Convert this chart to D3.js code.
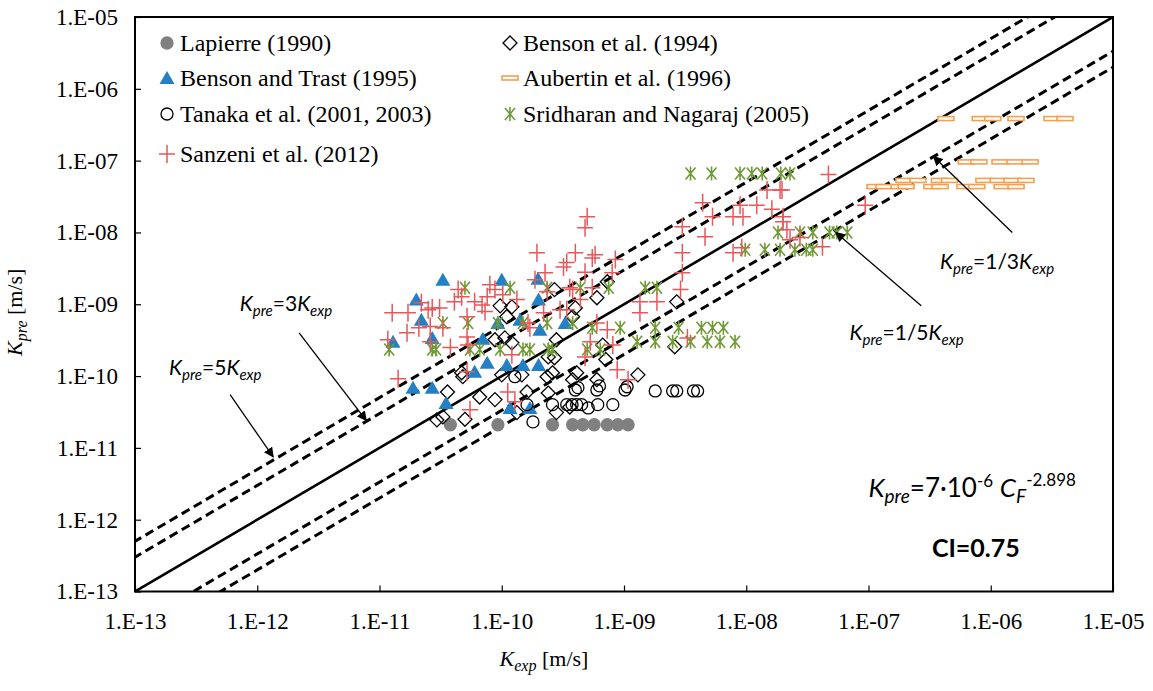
<!DOCTYPE html>
<html>
<head>
<meta charset="utf-8">
<script src="https://cdn.jsdelivr.net/npm/d3@7"></script>
<style>
  body { margin: 0; background: #fff; }
  svg { display: block; }
  .tick text { font-family: "Liberation Serif", "Times New Roman", serif; font-size: 23px; fill: #000; }
  .legend text { font-family: "Liberation Serif", "Times New Roman", serif; font-size: 24px; fill: #000; }
  .note { font-family: Lato, "Open Sans", sans-serif; font-size: 21px; fill: #000; }
</style>
</head>
<body>
<div id="chart"></div>
<script>
// ---- data ----
var tickVals = [1e-13, 1e-12, 1e-11, 1e-10, 1e-9, 1e-8, 1e-7, 1e-6, 1e-5];

var lapierreX = [3.8e-11, 9.3e-11, 2.6e-10, 3.8e-10, 4.6e-10, 5.7e-10, 7.3e-10, 8.9e-10, 1.08e-9];
var lapierreY = [2.1e-11, 2.1e-11, 2.1e-11, 2.1e-11, 2.1e-11, 2.1e-11, 2.1e-11, 2.1e-11, 2.1e-11];

var benson94X = [9.7e-11, 1.21e-10, 1.1e-10, 2.7e-10, 8.8e-11, 1.06e-10, 1.21e-10, 2.8e-10, 2.4e-10, 2.7e-10,
                 4.7e-11, 4.8e-11, 1.0e-10, 1.46e-10, 2.35e-10, 2.6e-10, 3.6e-11, 6.6e-11, 8.8e-11, 1.61e-10,
                 2.4e-10, 2.95e-11, 3.3e-11, 5.0e-11, 1.33e-10, 2.8e-10, 3.6e-10, 7.3e-10, 6.0e-10, 4.0e-10,
                 3.8e-10, 2.7e-9, 6.7e-10, 2.6e-9, 7.1e-10, 4.1e-10, 3.8e-10, 6.0e-10, 1.3e-9];
var benson94Y = [9.5e-10, 9.2e-10, 6.7e-10, 1.6e-9, 3.2e-10, 3.4e-10, 2.9e-10, 3.2e-10, 1.85e-10, 1.8e-10,
                 1.11e-10, 9.8e-11, 1.04e-10, 1.04e-10, 9.8e-11, 1.11e-10, 6.0e-11, 5.1e-11, 4.7e-11, 6.0e-11,
                 5.8e-11, 2.45e-11, 2.7e-11, 2.5e-11, 3.1e-11, 3.1e-11, 3.7e-11, 2.06e-9, 1.23e-9, 8.9e-10,
                 6.7e-10, 1.08e-9, 2.7e-10, 2.56e-10, 1.7e-10, 1.11e-10, 8.9e-11, 8.9e-11, 1.04e-10];

var trastX = [3.3e-11, 1.0e-10, 2.0e-11, 1.98e-10, 2.2e-11, 2.0e-10, 1.29e-11, 2.7e-11, 7.0e-11, 1.41e-10,
              9.3e-11, 2.05e-10, 3.3e-10, 7.6e-11, 1.1e-10, 1.49e-10, 2.0e-10, 6.0e-11, 1.88e-11, 2.7e-11,
              3.5e-11, 1.17e-10, 1.7e-10];
var trastY = [2.2e-9, 2.2e-9, 1.16e-9, 2.26e-9, 6.1e-10, 1.16e-9, 3.0e-10, 3.4e-10, 3.3e-10, 6.1e-10,
              5.5e-10, 4.4e-10, 5.5e-10, 1.53e-10, 1.43e-10, 1.43e-10, 1.43e-10, 1.15e-10, 6.9e-11, 6.9e-11,
              4.2e-11, 3.6e-11, 3.6e-11];

var aubertinX = [4.3e-7, 8.2e-7, 1.04e-6, 1.61e-6, 3.17e-6, 4.05e-6,
                 6.3e-7, 8.0e-7, 1.19e-6, 1.58e-6, 2.1e-6,
                 1.95e-7, 2.54e-7, 3.8e-7, 4.6e-7, 8.8e-7, 1.15e-6, 1.49e-6, 1.94e-6,
                 1.13e-7, 1.34e-7, 1.78e-7, 2.03e-7, 3.3e-7, 3.85e-7, 6.15e-7, 7.7e-7, 1.24e-6, 1.61e-6];
var aubertinY = [3.85e-7, 3.85e-7, 3.85e-7, 3.85e-7, 3.85e-7, 3.85e-7,
                 9.6e-8, 9.6e-8, 9.6e-8, 9.6e-8, 9.6e-8,
                 5.3e-8, 5.3e-8, 5.3e-8, 5.3e-8, 5.3e-8, 5.3e-8, 5.3e-8, 5.3e-8,
                 4.35e-8, 4.35e-8, 4.35e-8, 4.35e-8, 4.35e-8, 4.35e-8, 4.35e-8, 4.35e-8, 4.35e-8, 4.35e-8];

var tanakaX = [1.28e-10, 1.8e-10, 1.61e-10, 2.6e-10, 3.4e-10, 3.76e-10, 4.1e-10, 4.5e-10, 5.1e-10, 6.1e-10,
               8.1e-10, 4.0e-10, 4.2e-10, 6.0e-10, 6.3e-10, 1.02e-9, 1.06e-9, 1.8e-9, 2.5e-9, 2.7e-9,
               3.7e-9, 4.0e-9];
var tanakaY = [9.8e-11, 2.3e-11, 4.0e-11, 4.0e-11, 4.0e-11, 4.0e-11, 4.0e-11, 4.0e-11, 3.6e-11, 4.0e-11,
               4.0e-11, 6.4e-11, 6.9e-11, 6.4e-11, 7.3e-11, 6.4e-11, 7.1e-11, 6.2e-11, 6.2e-11, 6.2e-11,
               6.2e-11, 6.2e-11];

var sridharanX = [1.2e-11, 2.7e-11, 2.9e-11, 5.5e-11, 6.6e-11, 9.7e-11, 1.49e-10, 1.7e-10, 2.4e-10, 2.6e-10, 5.0e-10, 6.4e-10,
                  1.28e-9, 1.8e-9, 2.5e-9, 3.5e-9, 4.8e-9, 6.1e-9, 8.1e-9,
                  5.5e-10, 9.3e-10, 1.8e-9, 2.8e-9, 4.3e-9, 5.3e-9, 6.5e-9,
                  3.3e-11, 5.3e-11, 9.3e-11, 1.49e-10, 2.35e-10, 3.8e-10,
                  5.0e-11, 1.17e-10, 2.35e-10, 4.4e-10, 7.5e-10, 1.49e-9, 1.86e-9,
                  9.8e-9, 1.42e-8, 1.89e-8, 2.5e-8, 3.1e-8, 3.5e-8,
                  1.82e-8, 2.75e-8, 3.5e-8, 4.8e-8, 5.5e-8, 6.7e-8,
                  3.5e-9, 5.2e-9, 8.9e-9, 1.11e-8, 1.35e-8, 1.92e-8, 2.28e-8];
var sridharanY = [2.35e-10, 2.35e-10, 2.35e-10, 2.35e-10, 2.35e-10, 2.35e-10, 2.35e-10, 2.35e-10, 2.35e-10, 2.35e-10, 2.35e-10, 2.35e-10,
                  3.0e-10, 3.0e-10, 3.0e-10, 3.0e-10, 3.0e-10, 3.0e-10, 3.0e-10,
                  4.7e-10, 4.7e-10, 4.7e-10, 4.7e-10, 4.7e-10, 4.7e-10, 4.7e-10,
                  5.5e-10, 5.5e-10, 5.5e-10, 5.5e-10, 5.5e-10, 5.5e-10,
                  1.7e-9, 1.7e-9, 1.7e-9, 1.7e-9, 1.7e-9, 1.7e-9, 1.7e-9,
                  5.75e-9, 5.75e-9, 5.75e-9, 5.75e-9, 5.75e-9, 5.75e-9,
                  1.0e-8, 1.0e-8, 1.0e-8, 1.0e-8, 1.0e-8, 1.0e-8,
                  6.6e-8, 6.6e-8, 6.6e-8, 6.6e-8, 6.6e-8, 6.6e-8, 6.6e-8];

var sanzeniX = [1.94e-10, 3.2e-10, 4.0e-10, 2.26e-10, 1.87e-10, 8.0e-11, 8.8e-11, 4.4e-11, 4.7e-11, 7.6e-11,
                1.02e-10, 1.33e-10, 4.1e-11, 6.0e-11, 6.9e-11, 3.1e-11, 2.7e-11, 2.5e-11, 1.27e-11, 1.71e-11,
                2.2e-11, 7.3e-11, 5.2e-11, 2.1e-11, 2.6e-11, 1.68e-11, 3.3e-11, 1.17e-11, 2.6e-11, 3.8e-11,
                5.2e-11, 5.3e-11, 1.64e-10, 1.7e-10, 2.2e-10, 3.0e-10, 3.6e-10, 2.35e-10, 1.21e-10, 5.2e-11,
                1.42e-11, 1.12e-10, 1.28e-10, 5.5e-11, 5.0e-10, 4.8e-10, 5.8e-10, 3.4e-10, 8.5e-10, 4.8e-10,
                5.5e-10, 8.0e-10, 3.8e-10, 4.4e-10, 5.5e-10, 3.4e-10, 6.0e-10, 7.3e-10, 5.3e-10, 8.1e-10,
                4.8e-10, 8.8e-10, 1.08e-9, 4.4e-9, 5.3e-9, 8.9e-9, 1.22e-8, 1.48e-8, 1.89e-8, 1.62e-8,
                2.0e-8, 7.8e-9, 9.4e-9, 3.0e-9, 4.6e-9, 3.0e-9, 7.8e-9, 9.2e-9, 2.15e-8, 2.28e-8,
                2.75e-8, 3.0e-9, 2.9e-9, 1.35e-9, 1.86e-9, 1.35e-9, 3.3e-9, 4.7e-8, 1.96e-8, 9.4e-8,
                2.0e-8, 4.2e-8];
var sanzeniY = [5.2e-9, 3.3e-9, 5.2e-9, 2.75e-9, 2.2e-9, 1.87e-9, 1.6e-9, 1.6e-9, 1.27e-9, 1.27e-9,
                1.36e-9, 1.16e-9, 1.08e-9, 1.08e-9, 9.8e-10, 8.9e-10, 8.9e-10, 8.4e-10, 7.6e-10, 7.6e-10,
                1.05e-9, 7.9e-10, 6.7e-10, 4.7e-10, 4.9e-10, 4.0e-10, 4.7e-10, 3.2e-10, 3.0e-10, 2.5e-10,
                3.5e-10, 2.7e-10, 5.5e-10, 4.7e-10, 7.6e-10, 8.4e-10, 1.7e-9, 1.49e-9, 1.98e-10, 1.15e-10,
                9.2e-11, 6.0e-11, 4.4e-11, 3.4e-11, 1.66e-8, 1.16e-8, 4.9e-9, 3.8e-9, 4.2e-9, 2.8e-9,
                4.4e-9, 2.75e-9, 1.6e-9, 1.16e-9, 1.7e-9, 8.4e-10, 5.5e-10, 4.4e-10, 3.0e-10, 2.7e-10,
                1.85e-10, 1.22e-10, 8.9e-11, 2.6e-8, 1.66e-8, 2.4e-8, 2.4e-8, 3.9e-8, 3.9e-8, 2.1e-8,
                1.66e-8, 1.66e-8, 1.66e-8, 1.2e-8, 8.7e-9, 5.2e-9, 5.2e-9, 6.1e-9, 1.09e-8, 7.9e-9,
                8.5e-9, 2.75e-9, 1.6e-9, 1.08e-9, 1.08e-9, 7.6e-10, 3.4e-10, 6.4e-8, 3.9e-8, 2.4e-8,
                1.41e-8, 6.3e-9];

// reference lines Kpre = k * Kexp
var lineFactors = [5, 3, 1, 1/3, 1/5];

var legendNames = ["Lapierre (1990)", "Benson et al. (1994)", "Benson and Trast (1995)", "Aubertin et al. (1996)",
                   "Tanaka et al. (2001, 2003)", "Sridharan and Nagaraj (2005)", "Sanzeni et al. (2012)"];

// ---- layout ----
var margin = {top: 17, right: 40, bottom: 99.5, left: 135},
    width = 1153 - margin.left - margin.right,
    height = 691 - margin.top - margin.bottom;

var x = d3.scaleLog().domain([1e-13, 1e-5]).range([0, width]);
var y = d3.scaleLog().domain([1e-13, 1e-5]).range([height, 0]);

function fmt(v) {
  var e = Math.round(Math.log10(v));
  var a = Math.abs(e);
  return "1.E" + (e < 0 ? "-" : "+") + (a < 10 ? "0" + a : a);
}

var svg = d3.select("#chart").append("svg")
    .attr("width", 1153)
    .attr("height", 691)
  .append("g")
    .attr("transform", "translate(" + margin.left + "," + margin.top + ")");

svg.append("defs").append("clipPath").attr("id", "clip")
  .append("rect").attr("width", width).attr("height", height);

svg.select("defs").append("marker")
    .attr("id", "arrow")
    .attr("viewBox", "0 0 10 10")
    .attr("refX", 9).attr("refY", 5)
    .attr("markerWidth", 10).attr("markerHeight", 10)
    .attr("markerUnits", "userSpaceOnUse")
    .attr("orient", "auto")
  .append("path").attr("d", "M0,0L10,5L0,10Z").attr("fill", "#000");

// axes
var xAxis = d3.axisBottom(x).tickValues(tickVals).tickFormat(fmt).tickSizeInner(-6).tickSizeOuter(0).tickPadding(21);
var yAxis = d3.axisLeft(y).tickValues(tickVals).tickFormat(fmt).tickSizeInner(-6).tickSizeOuter(0).tickPadding(17);

svg.append("g")
    .attr("class", "x axis")
    .attr("transform", "translate(0," + height + ")")
    .call(xAxis);
svg.append("g")
    .attr("class", "y axis")
    .call(yAxis);
svg.selectAll(".axis path").remove();
svg.selectAll(".axis line").attr("stroke", "#000").attr("stroke-width", 1.2);

// reference lines
var plot = svg.append("g").attr("clip-path", "url(#clip)");
lineFactors.forEach(function(k) {
  plot.append("line")
      .attr("x1", x(1e-14)).attr("y1", y(1e-14 * k))
      .attr("x2", x(1e-4)).attr("y2", y(1e-4 * k))
      .attr("stroke", "#000")
      .attr("stroke-width", k === 1 ? 2.6 : 3)
      .attr("stroke-dasharray", k === 1 ? null : "9,5");
});

// marker shapes
var shapes = {
  circle: function(g, fill, stroke) {
    g.append("circle").attr("r", 6).attr("fill", fill).attr("stroke", stroke).attr("stroke-width", 1.3);
  },
  diamond: function(g) {
    g.append("path").attr("d", "M0,-7L7,0L0,7L-7,0Z").attr("fill", "none").attr("stroke", "#000").attr("stroke-width", 1.3);
  },
  triangle: function(g) {
    g.append("path").attr("d", "M0,-7L7.5,6L-7.5,6Z").attr("fill", "#2480c5");
  },
  bar: function(g) {
    g.append("rect").attr("x", -8).attr("y", -2).attr("width", 16).attr("height", 4)
      .attr("fill", "#fff").attr("stroke", "#f4a04e").attr("stroke-width", 1.6);
  },
  star: function(g) {
    g.append("path").attr("d", "M-5,-6L5,6M-5,6L5,-6M0,-7L0,7")
      .attr("fill", "none").attr("stroke", "#6f9a35").attr("stroke-width", 1.6);
  },
  cross: function(g) {
    g.append("path").attr("d", "M-8,0L8,0M0,-9L0,9")
      .attr("fill", "none").attr("stroke", "#e8575a").attr("stroke-width", 1.5);
  }
};

function drawSeries(xs, ys, draw) {
  var data = xs.map(function(d, i) { return {x: d, y: ys[i]}; });
  plot.selectAll(null)
      .data(data)
    .enter().append("g")
      .attr("transform", function(d) { return "translate(" + x(d.x) + "," + y(d.y) + ")"; })
      .each(function() { draw(d3.select(this)); });
}

drawSeries(lapierreX, lapierreY, function(g) { shapes.circle(g, "#808080", "#808080"); });
drawSeries(benson94X, benson94Y, shapes.diamond);
drawSeries(trastX, trastY, shapes.triangle);
drawSeries(aubertinX, aubertinY, shapes.bar);
drawSeries(tanakaX, tanakaY, function(g) { shapes.circle(g, "none", "#000"); });
drawSeries(sridharanX, sridharanY, shapes.star);
drawSeries(sanzeniX, sanzeniY, shapes.cross);

// frame
svg.append("rect")
    .attr("width", width).attr("height", height)
    .attr("fill", "none").attr("stroke", "#000").attr("stroke-width", 2);

// legend
var legendDraw = [
  function(g) { shapes.circle(g, "#808080", "#808080"); },
  shapes.diamond, shapes.triangle, shapes.bar,
  function(g) { shapes.circle(g, "none", "#000"); },
  shapes.star, shapes.cross
];
var legendRows = [26, 61, 97, 137];
var legend = svg.append("g").attr("class", "legend");
legendNames.forEach(function(name, i) {
  var col = i % 2, row = Math.floor(i / 2);
  var g = legend.append("g")
      .attr("transform", "translate(" + (32 + col * 343) + "," + legendRows[row] + ")");
  legendDraw[i](g);
  g.append("text").attr("x", 13).attr("y", 8).text(name);
});

// annotations (anchored in data units)
var notes = [
  {num: "3", lx: 7.2e-13, ly: 8.0e-10, ax1: 2.2e-12, ay1: 4.0e-10, ax2: 7.8e-12, ay2: 2.4e-11},
  {num: "5", lx: 1.9e-13, ly: 1.05e-10, ax1: 6.0e-13, ay1: 5.5e-11, ax2: 1.35e-12, ay2: 7.5e-12},
  {num: "1/3", lx: 3.85e-7, ly: 3.1e-9, ax1: 1.5e-6, ay1: 1.0e-8, ax2: 3.4e-7, ay2: 1.14e-7},
  {num: "1/5", lx: 7.0e-8, ly: 3.2e-10, ax1: 2.7e-7, ay1: 9.5e-10, ax2: 5.4e-8, ay2: 1.0e-8}
];
notes.forEach(function(n) {
  svg.append("line")
      .attr("x1", x(n.ax1)).attr("y1", y(n.ay1))
      .attr("x2", x(n.ax2)).attr("y2", y(n.ay2))
      .attr("stroke", "#000").attr("stroke-width", 1.3)
      .attr("marker-end", "url(#arrow)");
  var t = svg.append("text").attr("class", "note").attr("x", x(n.lx)).attr("y", y(n.ly));
  t.append("tspan").attr("font-style", "italic").text("K");
  t.append("tspan").attr("font-style", "italic").attr("font-size", 15).attr("dy", 5).text("pre");
  t.append("tspan").attr("dy", -5).text("=" + n.num);
  t.append("tspan").attr("font-style", "italic").text("K");
  t.append("tspan").attr("font-style", "italic").attr("font-size", 15).attr("dy", 5).text("exp");
});

// fit equation and CI
var eq = svg.append("text").attr("class", "note").style("font-size", "26px")
    .attr("x", x(1.0e-7)).attr("y", y(2.07e-12));
eq.append("tspan").attr("font-style", "italic").text("K");
eq.append("tspan").attr("font-style", "italic").attr("font-size", 19).attr("dy", 6).text("pre");
eq.append("tspan").attr("dy", -6).text("=7\u00b710");
eq.append("tspan").attr("font-size", 17).attr("dy", -10).text("-6");
eq.append("tspan").attr("dy", 10).text(" ");
eq.append("tspan").attr("font-style", "italic").text("C");
eq.append("tspan").attr("font-style", "italic").attr("font-size", 19).attr("dy", 6).text("F");
eq.append("tspan").attr("font-size", 17).attr("dy", -17).text("-2.898");

svg.append("text").attr("class", "note")
    .style("font-size", "25px").style("font-weight", "bold")
    .attr("x", x(3.3e-7)).attr("y", y(3.0e-13))
    .text("CI=0.75");

// axis titles
var xt = svg.append("text")
    .attr("x", width / 2 - 80).attr("y", height + 74)
    .attr("text-anchor", "middle")
    .style("font-family", "Liberation Serif, Times New Roman, serif").style("font-size", "22px");
xt.append("tspan").attr("font-style", "italic").text("K");
xt.append("tspan").attr("font-style", "italic").attr("font-size", 16).attr("dy", 5).text("exp");
xt.append("tspan").attr("dy", -5).text(" [m/s]");

var yt = svg.append("text")
    .attr("transform", "translate(" + (-113) + "," + (height / 2 + 8) + ") rotate(-90)")
    .attr("text-anchor", "middle")
    .style("font-family", "Liberation Serif, Times New Roman, serif").style("font-size", "22px");
yt.append("tspan").attr("font-style", "italic").text("K");
yt.append("tspan").attr("font-style", "italic").attr("font-size", 16).attr("dy", 5).text("pre");
yt.append("tspan").attr("dy", -5).text(" [m/s]");
</script>
</body>
</html>
